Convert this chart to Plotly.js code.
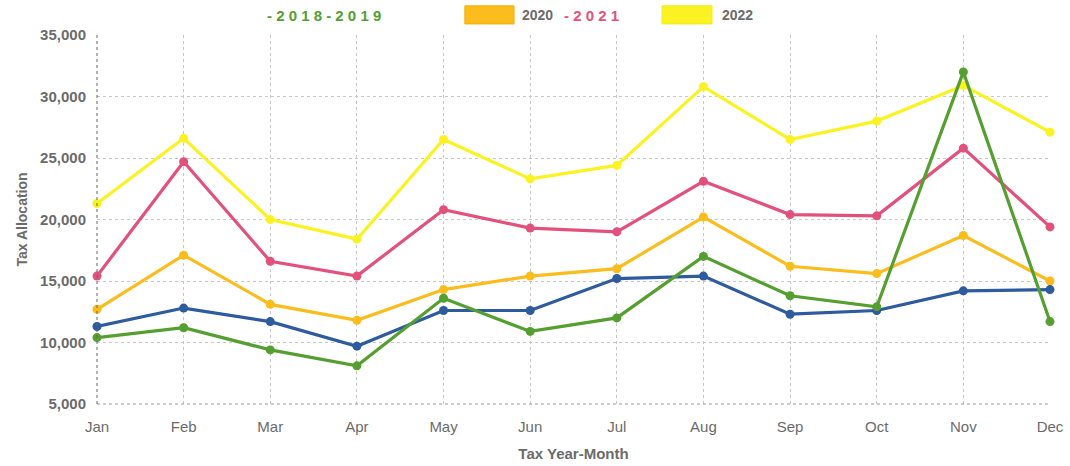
<!DOCTYPE html>
<html>
<head>
<meta charset="utf-8">
<script src="https://cdn.plot.ly/plotly-3.0.1.min.js"></script>
<style>html,body{margin:0;padding:0;background:#fff;}#chart{width:1070px;height:466px;}</style>
</head>
<body>
<div id="chart"></div>
<script>
const months = ["Jan","Feb","Mar","Apr","May","Jun","Jul","Aug","Sep","Oct","Nov","Dec"];
const y2018 = [10400,11200,9400,8100,13600,10900,12000,17000,13800,12900,32000,11700];
const y2019 = [11300,12800,11700,9700,12600,12600,15200,15400,12300,12600,14200,14300];
const y2020 = [12700,17100,13100,11800,14300,15400,16000,20200,16200,15600,18700,15000];
const y2021 = [15400,24700,16600,15400,20800,19300,19000,23100,20400,20300,25800,19400];
const y2022 = [21300,26600,20000,18400,26500,23300,24400,30800,26500,28000,30900,27100];
const yTicks = [5000,10000,15000,20000,25000,30000,35000];

const colors = {y2018:"#559e30", y2019:"#2d5b9e", y2020:"#fbbd1e", y2021:"#e2517c", y2022:"#fbf224"};

function tr(name, ys, color){
  return {type:"scatter", mode:"lines+markers", name:name, x:months, y:ys,
    line:{color:color, width:3.2}, marker:{color:color, size:9}, cliponaxis:false, showlegend:false};
}
const data = [
  tr("2022", y2022, colors.y2022),
  tr("2021", y2021, colors.y2021),
  tr("2020", y2020, colors.y2020),
  tr("2019", y2019, colors.y2019),
  tr("2018", y2018, colors.y2018)
];

const gray = "#6b6b6b";
const layout = {
  width:1070, height:466,
  margin:{l:97, r:20, t:35, b:62},
  paper_bgcolor:"#fff", plot_bgcolor:"#fff",
  showlegend:false,
  xaxis:{type:"category", categoryarray:months, range:[0,11],
    showgrid:true, gridcolor:"#c8c8c8", griddash:"dot", gridwidth:1,
    showline:false, zeroline:false, ticks:"", ticklabelstandoff:12,
    tickfont:{family:"Liberation Sans Narrow, Liberation Sans, Arial", size:15, color:gray},
    title:{text:"Tax Year-Month", standoff:14, font:{family:"Liberation Sans Narrow, Liberation Sans, Arial", size:15, color:gray, weight:"bold"}}},
  yaxis:{range:[5000,35000], tickvals:yTicks, tickformat:",",
    showgrid:true, gridcolor:"#c8c8c8", griddash:"dot", gridwidth:1,
    showline:false, zeroline:false, ticks:"", ticklabelstandoff:10,
    tickfont:{family:"Liberation Sans, Arial", size:15, color:gray, weight:"bold"},
    title:{text:"Tax Allocation", standoff:9, font:{family:"Liberation Sans, Arial", size:14, color:gray, weight:"bold"}}},
  shapes:[
    {type:"rect", xref:"paper", yref:"paper", x0:0.386, x1:0.4376, y0:1.030, y1:1.079, fillcolor:colors.y2020, line:{color:"#f2b000", width:1}},
    {type:"rect", xref:"paper", yref:"paper", x0:0.5929, x1:0.6453, y0:1.030, y1:1.079, fillcolor:colors.y2022, line:{color:"#f4ea10", width:1}},
    {type:"line", xref:"paper", yref:"paper", x0:0, x1:1, y0:0, y1:0, line:{color:"#9a9a9a", width:1, dash:"dot"}},
    {type:"line", xref:"paper", yref:"paper", x0:0, x1:0, y0:0, y1:1, line:{color:"#666", width:1, dash:"dot"}}
  ],
  annotations:[
    {xref:"paper", yref:"paper", x:0.1763, y:1.054, xanchor:"left", yanchor:"middle", showarrow:false,
     text:"- 2 0 1 8 - 2 0 1 9", font:{family:"Liberation Sans, Arial", size:15, color:colors.y2018, weight:"bold"}},
    {xref:"paper", yref:"paper", x:0.4439, y:1.054, xanchor:"left", yanchor:"middle", showarrow:false,
     text:"2020", font:{family:"Liberation Sans, Arial", size:14, color:gray, weight:"bold"}},
    {xref:"paper", yref:"paper", x:0.488, y:1.054, xanchor:"left", yanchor:"middle", showarrow:false,
     text:"- 2 0 2 1", font:{family:"Liberation Sans, Arial", size:15, color:colors.y2021, weight:"bold"}},
    {xref:"paper", yref:"paper", x:0.6537, y:1.054, xanchor:"left", yanchor:"middle", showarrow:false,
     text:"2022", font:{family:"Liberation Sans, Arial", size:14, color:gray, weight:"bold"}}
  ]
};
Plotly.newPlot("chart", data, layout, {displayModeBar:false, staticPlot:true});
</script>
</body>
</html>
